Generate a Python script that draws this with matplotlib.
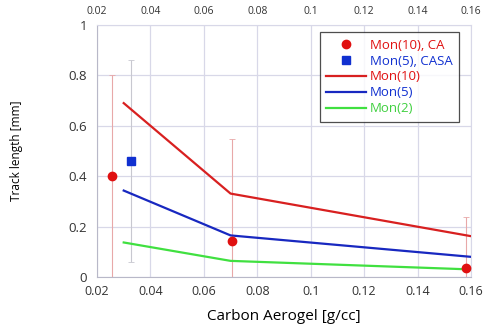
import numpy as np
import matplotlib.pyplot as plt

plt.rcParams["font.family"] = ["Open Sans", "DejaVu Sans"]

# measured points
ca_x = [0.0257, 0.0704, 0.1580]
ca_y = [0.400, 0.142, 0.037]
ca_err = [0.400, 0.405, 0.200]

casa_x = [0.0326]
casa_y = [0.461]
casa_err = [0.401]

# model curves
mon_x = [0.030, 0.070, 0.160]
mon10 = [0.690, 0.331, 0.162]
mon5 = [0.343, 0.165, 0.080]
mon2 = [0.137, 0.064, 0.030]

xticks = [0.02, 0.04, 0.06, 0.08, 0.1, 0.12, 0.14, 0.16]
xticklabels = ["0.02", "0.04", "0.06", "0.08", "0.1", "0.12", "0.14", "0.16"]
yticks = [0, 0.2, 0.4, 0.6, 0.8, 1.0]
yticklabels = ["0", "0.2", "0.4", "0.6", "0.8", "1"]

fig = plt.figure(figsize=(4.83, 3.25), dpi=100)
ax = fig.add_axes([97 / 483, 1 - 277 / 325, 374 / 483, 252 / 325])

grid_c = "#d8d8e8"
ax.set_xlim(0.02, 0.16)
ax.set_ylim(0, 1)
ax.set_xticks(xticks)
ax.set_xticklabels(xticklabels)
ax.set_yticks(yticks)
ax.set_yticklabels(yticklabels)
ax.grid(True, color=grid_c, lw=0.9)
ax.set_axisbelow(True)
for side in ["top", "right"]:
    ax.spines[side].set_color(grid_c)
for side in ["left", "bottom"]:
    ax.spines[side].set_color("#b8b8c8")
ax.tick_params(axis="x", length=0, labelsize=9, colors="#333333", pad=6)
ax.tick_params(axis="y", length=0, labelsize=9.5, colors="#333333", pad=7)

ax.errorbar(ca_x, ca_y, yerr=ca_err, fmt="none", ecolor="#e8a8a8",
            elinewidth=0.8, capsize=2, capthick=0.6, zorder=2)
ax.errorbar(casa_x, casa_y, yerr=casa_err, fmt="none", ecolor="#c8c8d0",
            elinewidth=0.8, capsize=2, capthick=0.6, zorder=2)

ax.plot(ca_x, ca_y, "o", color="#e01010", ms=6, ls="none",
        label="Mon(10), CA", zorder=4, clip_on=False)
ax.plot(casa_x, casa_y, "s", color="#1030d0", ms=5.5, ls="none",
        label="Mon(5), CASA", zorder=4)
ax.plot(mon_x, mon10, color="#d82020", lw=1.6, label="Mon(10)", zorder=3)
ax.plot(mon_x, mon5, color="#1828c0", lw=1.6, label="Mon(5)", zorder=3)
ax.plot(mon_x, mon2, color="#40e040", lw=1.6, label="Mon(2)", zorder=3)

ax.set_xlabel("Carbon Aerogel [g/cc]", fontsize=11, labelpad=8)
ax.set_ylabel("Track length [mm]", fontsize=8.5, labelpad=33)

top = ax.twiny()
top.set_xlim(ax.get_xlim())
top.set_xticks(xticks)
top.set_xticklabels(xticklabels)
top.tick_params(length=0, labelsize=7.5, colors="#333333", pad=5.5)
for s in top.spines.values():
    s.set_visible(False)

leg = ax.legend(loc="upper right", bbox_to_anchor=(0.968, 0.972),
                borderaxespad=0, fontsize=9.5, frameon=True, fancybox=False,
                borderpad=0.5, handlelength=3.0, handletextpad=0.3,
                labelspacing=0.22)
leg.get_frame().set_edgecolor("#222222")
leg.get_frame().set_linewidth(0.9)
text_cols = ["#e01010", "#1030d0", "#e01010", "#1030d0", "#40d040"]
for t, c in zip(leg.get_texts(), text_cols):
    t.set_color(c)

fig.savefig("out.png", dpi=100)
